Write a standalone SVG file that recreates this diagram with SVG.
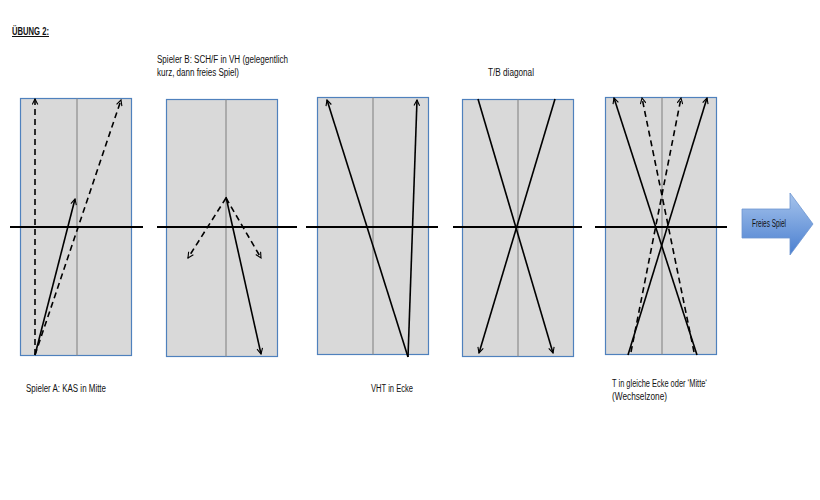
<svg xmlns="http://www.w3.org/2000/svg" width="820" height="500" viewBox="0 0 820 500">
<defs>
<marker id="ah" viewBox="0 0 10 10" refX="9" refY="5" markerWidth="7" markerHeight="7" markerUnits="userSpaceOnUse" orient="auto">
<polyline points="1,1 9,5 1,9" fill="none" stroke="#000" stroke-width="1.6"/>
</marker>
<linearGradient id="bg" x1="0" y1="0" x2="0" y2="1">
<stop offset="0" stop-color="#a7c4ec"/>
<stop offset="1" stop-color="#4a7fd0"/>
</linearGradient>
<style>
.court{fill:#d9d9d9;stroke:#4f81bd;stroke-width:1.2}
.mid{stroke:#8c8c8c;stroke-width:1.2}
.net{stroke:#000;stroke-width:1.8}
.s{stroke:#000;stroke-width:1.6;fill:none;marker-end:url(#ah)}
.d{stroke:#000;stroke-width:1.6;fill:none;stroke-dasharray:6,4;marker-end:url(#ah)}
text{font-family:"Liberation Sans",Arial,sans-serif;font-size:10px;fill:#111}
</style>
</defs>
<rect width="820" height="500" fill="#fff"/>
<text x="12" y="35" font-weight="bold" text-decoration="underline" textLength="37" lengthAdjust="spacingAndGlyphs">ÜBUNG 2:</text>
<g id="court1">
<rect class="court" x="20.5" y="98.5" width="111" height="257"/>
<line class="mid" x1="77" y1="98.5" x2="77" y2="355.5"/>
<line class="net" x1="10" y1="227" x2="143" y2="227"/>
</g>
<g id="court2">
<text x="157" y="63" textLength="131" lengthAdjust="spacingAndGlyphs">Spieler B: SCH/F in VH (gelegentlich</text>
<text x="157" y="76" textLength="82" lengthAdjust="spacingAndGlyphs">kurz, dann freies Spiel)</text>
<rect class="court" x="166.5" y="99.5" width="111" height="257"/>
<line class="mid" x1="226" y1="99.5" x2="226" y2="356.5"/>
<line class="net" x1="157" y1="227" x2="297" y2="227"/>
</g>
<g id="court3">
<rect class="court" x="317.5" y="97.5" width="111" height="257"/>
<line class="mid" x1="373" y1="97.5" x2="373" y2="354.5"/>
<line class="net" x1="306" y1="227" x2="438" y2="227"/>
</g>
<g id="court4">
<text x="488" y="76" textLength="46" lengthAdjust="spacingAndGlyphs">T/B diagonal</text>
<rect class="court" x="462.5" y="99.5" width="111" height="257"/>
<line class="mid" x1="518" y1="99.5" x2="518" y2="356.5"/>
<line class="net" x1="453" y1="227" x2="582" y2="227"/>
</g>
<g id="court5">
<rect class="court" x="605.5" y="97.5" width="111" height="257"/>
<line class="mid" x1="662" y1="97.5" x2="662" y2="354.5"/>
<line class="net" x1="595" y1="227" x2="727" y2="227"/>
</g>
<g id="connectors">
<line class="d" x1="35" y1="355" x2="35" y2="99"/>
<line class="d" x1="35" y1="355" x2="121" y2="100"/>
<line class="s" x1="35" y1="355" x2="75" y2="199"/>
<line class="d" x1="226" y1="198" x2="188" y2="258"/>
<line class="d" x1="226" y1="198" x2="261" y2="258"/>
<line class="s" x1="226" y1="197" x2="261" y2="354"/>
<line class="s" x1="408" y1="357" x2="327" y2="100"/>
<line class="s" x1="408" y1="357" x2="417" y2="100"/>
<line class="s" x1="478" y1="99" x2="553" y2="353"/>
<line class="s" x1="555" y1="99" x2="479" y2="353"/>
<line class="s" x1="628" y1="355" x2="707" y2="98"/>
<line class="s" x1="697" y1="355" x2="614" y2="98"/>
<line class="d" x1="631" y1="352" x2="681" y2="98"/>
<line class="d" x1="694" y1="352" x2="642" y2="98"/>
</g>
<g id="freies-spiel">
<polygon points="742,209 790,209 790,193 813,224 790,255 790,238 742,238" fill="url(#bg)" stroke="#6d95d0" stroke-width="0.8"/>
<text x="752" y="227" textLength="34" lengthAdjust="spacingAndGlyphs">Freies Spiel</text>
</g>
<g id="labels">
<text x="26" y="392" textLength="80" lengthAdjust="spacingAndGlyphs">Spieler A: KAS in Mitte</text>
<text x="371" y="392" textLength="42" lengthAdjust="spacingAndGlyphs">VHT in Ecke</text>
<text x="612" y="387" textLength="95" lengthAdjust="spacingAndGlyphs">T in gleiche Ecke oder ‘Mitte‘</text>
<text x="612" y="400" textLength="55" lengthAdjust="spacingAndGlyphs">(Wechselzone)</text>
</g>
</svg>
